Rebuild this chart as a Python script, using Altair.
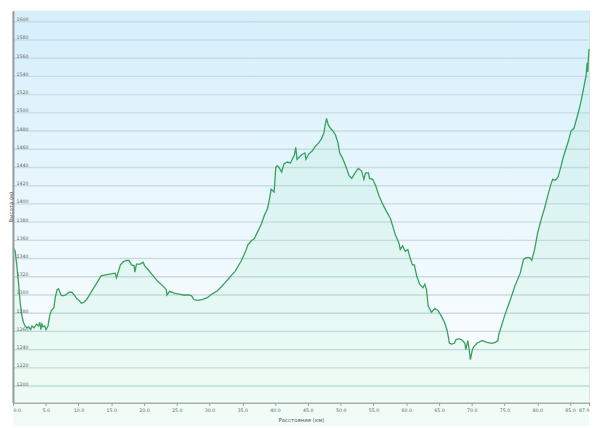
import altair as alt
import pandas as pd

# Distance along the route (km) and elevation (m)
dist_km = [
    0.0, 0.35, 0.6, 0.85, 1.1, 1.35, 1.6, 1.85, 2.1, 2.4, 2.7, 2.9, 3.2, 3.6, 3.9, 4.1,
    4.25, 4.4, 4.6, 4.85, 5.05, 5.35, 5.6, 5.85, 6.25, 6.45, 6.75, 6.95, 7.35, 7.55,
    8.05, 8.55, 9.0, 9.35, 9.75, 10.1, 10.45, 10.85, 11.25, 11.75, 12.35, 12.95, 13.45,
    14.1, 14.8, 15.6, 15.8, 16.1, 16.4, 16.9, 17.4, 17.7, 18.1, 18.5, 18.6, 18.85, 19.4,
    19.85, 20.1, 20.6, 21.4, 22.1, 22.85, 23.4, 23.5, 23.9, 24.6, 25.35, 26.05, 26.85,
    27.25, 27.6, 28.15, 28.85, 29.65, 30.35, 31.1, 31.8, 32.3, 32.8, 33.4, 33.9, 34.3,
    34.8, 35.25, 35.6, 35.85, 36.3, 36.85, 37.3, 37.9, 38.4, 38.85, 39.1, 39.4, 39.85,
    40.1, 40.3, 40.6, 41.0, 41.35, 41.85, 42.35, 42.95, 43.15, 43.35, 44.05, 44.55,
    44.7, 45.15, 45.65, 46.1, 46.65, 47.1, 47.45, 47.65, 47.85, 48.1, 48.45, 48.85,
    49.2, 49.6, 49.85, 50.3, 50.8, 51.3, 51.7, 52.2, 52.7, 53.2, 53.55, 53.8, 54.25,
    54.4, 54.9, 55.35, 55.85, 56.4, 57.05, 57.6, 58.35, 58.9, 59.1, 59.45, 59.85, 60.25,
    60.55, 60.95, 61.25, 61.6, 62.05, 62.55, 62.85, 63.1, 63.35, 63.85, 64.35, 64.85,
    65.35, 65.85, 66.25, 66.6, 66.95, 67.35, 67.6, 68.1, 68.6, 68.95, 69.1, 69.4, 69.6,
    69.8, 70.1, 70.3, 70.8, 71.6, 72.3, 73.1, 73.6, 74.0, 74.1, 74.4, 75.1, 75.9, 76.6,
    77.4, 77.9, 78.35, 78.85, 79.15, 79.6, 80.05, 80.55, 81.1, 81.6, 82.1, 82.35, 82.75,
    83.15, 83.65, 83.95, 84.35, 84.75, 85.15, 85.6, 86.1, 86.6, 87.1, 87.45, 87.6, 87.7,
    87.8, 87.9,
]
elev_m = [
    1352, 1348, 1332, 1314, 1292, 1278, 1270, 1266, 1264, 1265, 1262, 1266, 1264, 1268, 1266, 1270,
    1262, 1268, 1265, 1266, 1262, 1266, 1277, 1283, 1286, 1297, 1306, 1307, 1300, 1299,
    1300, 1303, 1303, 1300, 1296, 1294, 1291, 1292, 1295, 1301, 1308, 1315, 1321,
    1322, 1323, 1324, 1319, 1326, 1333, 1337, 1338, 1338, 1333, 1332, 1325, 1334, 1334,
    1336, 1332, 1328, 1321, 1315, 1310, 1306, 1300, 1304, 1302, 1301, 1300, 1300,
    1299, 1295, 1294, 1295, 1297, 1301, 1304, 1309, 1313, 1317, 1322, 1326, 1331,
    1337, 1344, 1350, 1355, 1359, 1362, 1369, 1378, 1388, 1395, 1404, 1416, 1413,
    1440, 1442, 1440, 1435, 1444, 1446, 1445, 1454, 1462, 1449, 1454, 1456,
    1449, 1455, 1458, 1463, 1467, 1472, 1478, 1487, 1494, 1487, 1483, 1480,
    1476, 1467, 1456, 1450, 1441, 1431, 1428, 1434, 1439, 1436, 1427, 1434, 1434,
    1428, 1427, 1420, 1409, 1400, 1391, 1384, 1366, 1357, 1350, 1354, 1348, 1350,
    1342, 1333, 1333, 1321, 1312, 1308, 1312, 1306, 1288, 1281, 1285, 1283,
    1277, 1270, 1261, 1247, 1246, 1247, 1251, 1252, 1250, 1247, 1240, 1250, 1241,
    1229, 1240, 1243, 1247, 1250, 1248, 1247, 1248, 1250, 1256, 1263, 1279, 1295, 1310,
    1324, 1339, 1341, 1341, 1338, 1350, 1368, 1382, 1395, 1409, 1422, 1427, 1426,
    1429, 1442, 1451, 1460, 1469, 1480, 1483, 1496, 1510, 1528, 1541, 1555, 1545,
    1560, 1570,
]

y_ticks = list(range(1200, 1601, 20))
x_ticks = [0, 5, 10, 15, 20, 25, 30, 35, 40, 45, 50, 55, 60, 65, 70, 75, 80, 85, 87.9]

df = pd.DataFrame({"dist": dist_km, "elev": elev_m})
grid_df = pd.DataFrame({"elev": y_ticks})

W, H = 584, 397
FONT = "DejaVu Sans"

x_scale = alt.Scale(domain=[0, 87.9], nice=False, zero=False)
y_scale = alt.Scale(domain=[1182, 1612], nice=False, zero=False)

x_enc = alt.X(
    "dist:Q", scale=x_scale,
    axis=alt.Axis(
        values=x_ticks, format=".1f", labelFlush=True, labelOverlap=False,
        tickSize=3, tickColor="#9a9a9a", domainColor="#9a9a9a", domainWidth=1.5,
        labelFontSize=4.8, labelColor="#666666", labelPadding=2, grid=False,
        title="Расстояние (км)", titleFontSize=5.5, titleFontWeight="normal",
        titleColor="#555555", titleY=17, titleBaseline="middle",
    ),
)
y_axis = alt.Axis(
    values=y_ticks, format="d", grid=False, zindex=1,
    ticks=False, labelAlign="left", labelBaseline="bottom", labelPadding=-3,
    labelFontSize=4.8, labelColor="#666666", labelOverlap=False,
    domainColor="#9a9a9a", domainWidth=2,
    title="Высота (м)", titleFontSize=5.5, titleFontWeight="normal",
    titleColor="#555555", titleX=-2.5, titleY=H / 2, titleBaseline="middle",
)
y_enc = alt.Y("elev:Q", scale=y_scale, axis=y_axis)

bg_gradient = alt.LinearGradient(
    gradient="linear",
    stops=[alt.GradientStop(color="#d5effb", offset=0),
           alt.GradientStop(color="#ffffff", offset=1)],
    x1=0, x2=0, y1=0, y2=1,
)

background = alt.Chart(alt.Data(values=[{}])).mark_rect(color=bg_gradient).encode(
    x=alt.value(0), x2=alt.value(W), y=alt.value(0), y2=alt.value(H)
)
gridlines = alt.Chart(grid_df).mark_rule(color="#c9dce4", strokeWidth=1.4).encode(
    y=y_enc, x=alt.value(0), x2=alt.value(W)
)

base = alt.Chart(df).encode(x=x_enc, y=y_enc)
area = base.mark_area(color="#40d47a", opacity=0.08)
line = base.mark_line(color="#38a05c", strokeWidth=1.3)

chart = (
    alt.layer(background, gridlines, area, line)
    .properties(
        width=W, height=H,
        autosize=alt.AutoSizeParams(type="none"),
        padding={"left": 5, "top": 0, "right": 3, "bottom": 21},
    )
    .configure(font=FONT)
    .configure_view(stroke="#d8e2e7", strokeWidth=1)
)

chart.save("out.html", embed_options={"renderer": "svg", "actions": False})
